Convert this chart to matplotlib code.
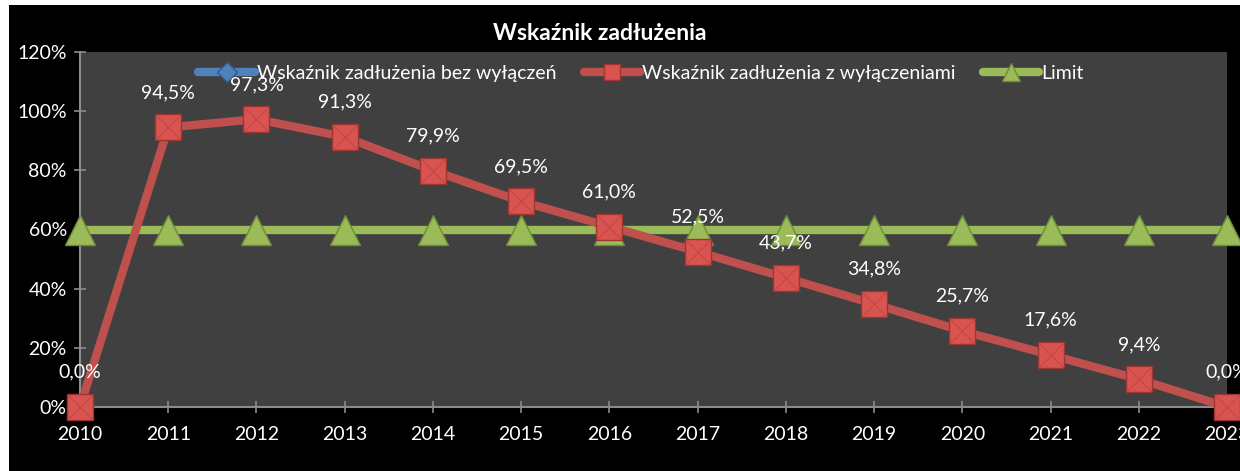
import matplotlib
matplotlib.use("Agg")
import matplotlib.pyplot as plt
from matplotlib.patches import Rectangle
from matplotlib.lines import Line2D

# Data
years = [2010, 2011, 2012, 2013, 2014, 2015, 2016, 2017, 2018, 2019, 2020, 2021, 2022, 2023]
debt_no_excl = [0.0, 94.5, 97.3, 91.3, 79.9, 69.5, 61.0, 52.5, 43.7, 34.8, 25.7, 17.6, 9.4, 0.0]
debt_with_excl = [0.0, 94.5, 97.3, 91.3, 79.9, 69.5, 61.0, 52.5, 43.7, 34.8, 25.7, 17.6, 9.4, 0.0]
limit = [60] * len(years)
y_ticks = [0, 20, 40, 60, 80, 100, 120]
series_names = ["Wskaźnik zadłużenia bez wyłączeń", "Wskaźnik zadłużenia z wyłączeniami", "Limit"]

# Colours
BLUE = "#4F81BD"
RED = "#C0504D"
RED_FACE = "#D95450"
RED_EDGE = "#9E3532"
GREEN = "#9BBB59"
GREEN_EDGE = "#6F8B3A"
PLOT_BG = "#404040"
AXIS_GRAY = "#8C8C8C"

plt.rcParams["font.family"] = ["Lato", "DejaVu Sans"]
FS = 14

W, H = 1240, 471
fig = plt.figure(figsize=(W / 100, H / 100), dpi=100)
fig.patch.set_facecolor("white")
# black chart area (thin white margin at top and left like the original)
fig.add_artist(Rectangle((9 / W, 0), 1 - 9 / W, 1 - 5 / H, transform=fig.transFigure,
                         facecolor="black", edgecolor="none", zorder=0))

ax = fig.add_axes([80 / W, 1 - 407 / H, (1227 - 80) / W, (407 - 52) / H])
ax.set_facecolor(PLOT_BG)

# series
ax.plot(years, debt_no_excl, color=BLUE, lw=4, marker="D", ms=9,
        mfc=BLUE, mec="#2F5C8F", zorder=2, clip_on=False)
ax.plot(years, limit, color=GREEN, lw=6, solid_capstyle="round", marker="^", ms=22,
        mfc=GREEN, mec=GREEN_EDGE, mew=1, zorder=3, clip_on=False)
ax.plot(years, debt_with_excl, color=RED, lw=6, marker="s", ms=19,
        mfc=RED_FACE, mec=RED_EDGE, mew=1, zorder=4, clip_on=False)
# pyramid-ish shading on the square markers
ax.plot(years, debt_with_excl, ls="none", marker="x", ms=17, mec="#C04843", mew=0.8,
        zorder=5, clip_on=False)

# data labels
for x, v in zip(years, debt_with_excl):
    ax.annotate(f"{v:.1f}".replace(".", ",") + "%", (x, v), xytext=(0, 25),
                textcoords="offset points", ha="center", va="center",
                color="white", fontsize=FS, zorder=6, annotation_clip=False)

ax.set_xlim(2010, 2023)
ax.set_ylim(0, 120)
ax.set_xticks(years)
ax.set_yticks(y_ticks)
ax.set_yticklabels([f"{t}%" for t in y_ticks])
ax.tick_params(colors=AXIS_GRAY, labelcolor="white", labelsize=FS,
               direction="inout", length=9, width=1.2)
ax.tick_params(axis="x", pad=9)
ax.tick_params(axis="y", pad=5)
for side in ["top", "right"]:
    ax.spines[side].set_visible(False)
for side in ["left", "bottom"]:
    ax.spines[side].set_color(AXIS_GRAY)
    ax.spines[side].set_linewidth(1.5)

# legend
handles = [
    Line2D([], [], color=BLUE, lw=6, solid_capstyle="round", marker="D", ms=10, mfc=BLUE, mec="#2F5C8F"),
    Line2D([], [], color=RED, lw=6, solid_capstyle="round", marker="s", ms=12, mfc=RED_FACE, mec=RED_EDGE),
    Line2D([], [], color=GREEN, lw=6, solid_capstyle="round", marker="^", ms=13, mfc=GREEN, mec=GREEN_EDGE),
]
leg = ax.legend(handles, series_names, loc="upper center", bbox_to_anchor=(0.489, 1.0),
                ncol=3, frameon=False, fontsize=FS, handlelength=2.9, handletextpad=0.1,
                columnspacing=1.4, borderaxespad=0.25)
for t in leg.get_texts():
    t.set_color("white")

fig.text(600 / W, 1 - 33 / H, "Wskaźnik zadłużenia", ha="center", va="center",
         color="white", fontsize=16.5, fontweight="bold")

fig.savefig("out.png", dpi=100, facecolor=fig.get_facecolor())
